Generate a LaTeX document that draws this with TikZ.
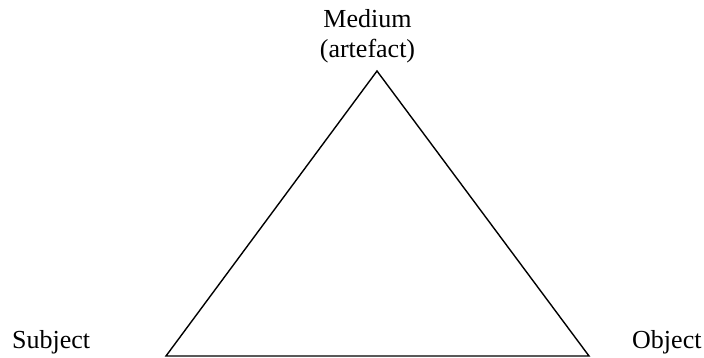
\documentclass[tikz,border=0pt]{standalone}
\usepackage{fontspec}
\setmainfont{Liberation Serif}
\begin{document}
\begin{tikzpicture}[x=1pt,y=1pt,
  lbl/.style={inner sep=0pt,font=\fontsize{26}{30}\selectfont},
  edge/.style={line width=1.4pt,line join=miter}]
\useasboundingbox (0,0) rectangle (704,358);
\coordinate (apex) at (377,287);
\coordinate (bl) at (166,2);
\coordinate (br) at (589,2);
\draw[edge] (apex) -- (bl) -- (br) -- cycle;
\node[lbl,anchor=base] (med) at (367.5,330) {Medium};
\node[lbl,anchor=base] (art) at (367.5,300) {(artefact)};
\node[lbl,anchor=base west] (subj) at (12,9) {Subject};
\node[lbl,anchor=base west] (obj) at (632,9) {Object};
\end{tikzpicture}
\end{document}
